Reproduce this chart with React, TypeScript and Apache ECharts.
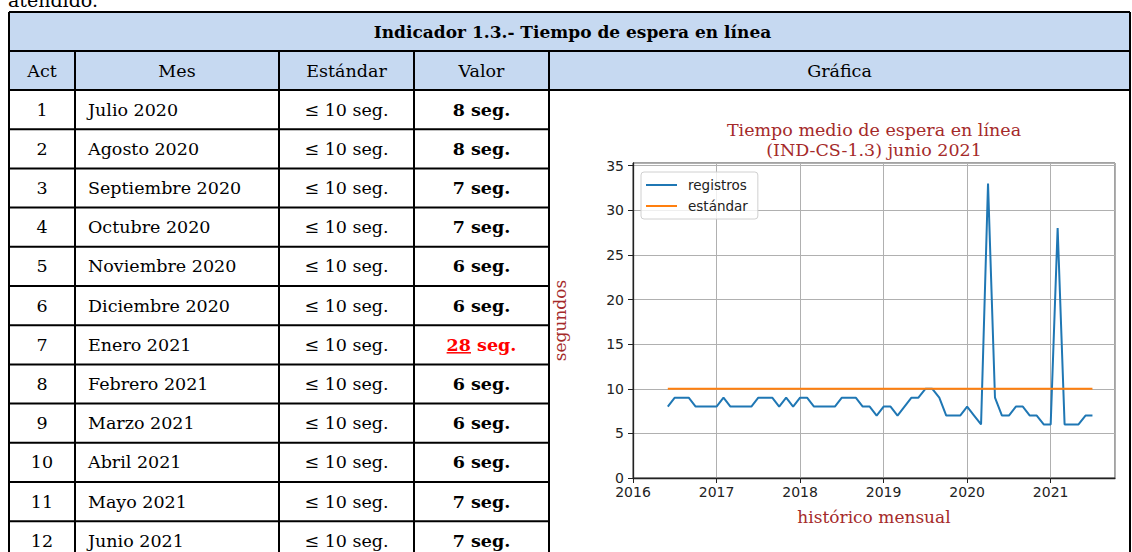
import React, { useEffect, useRef } from 'react';
import * as echarts from 'echarts';

// ---------- table data ----------
const introText = 'atendido.';
const tableTitle = 'Indicador 1.3.- Tiempo de espera en línea';
const headers = ['Act', 'Mes', 'Estándar', 'Valor', 'Gráfica'];
const acts = ['1', '2', '3', '4', '5', '6', '7', '8', '9', '10', '11', '12'];
const months = [
  'Julio 2020', 'Agosto 2020', 'Septiembre 2020', 'Octubre 2020', 'Noviembre 2020', 'Diciembre 2020',
  'Enero 2021', 'Febrero 2021', 'Marzo 2021', 'Abril 2021', 'Mayo 2021', 'Junio 2021',
];
const standards = [
  '≤ 10 seg.', '≤ 10 seg.', '≤ 10 seg.', '≤ 10 seg.', '≤ 10 seg.', '≤ 10 seg.',
  '≤ 10 seg.', '≤ 10 seg.', '≤ 10 seg.', '≤ 10 seg.', '≤ 10 seg.', '≤ 10 seg.',
];
const values = [8, 8, 7, 7, 6, 6, 28, 6, 6, 6, 7, 7];
const valueUnit = 'seg.';
const standardLimit = 10;

// ---------- chart data ----------
const chartTitleLines = ['Tiempo medio de espera en línea', '(IND-CS-1.3) junio 2021'];
const yAxisName = 'segundos';
const xAxisName = 'histórico mensual';
const seriesNames = ['registros', 'estándar'];
const firstYear = 2016;
const firstMonth = 5; // May 2016, month-end dates
const registros = [
  8, 9, 9, 9, 8, 8, 8, 8,
  9, 8, 8, 8, 8, 9, 9, 9,
  8, 9, 8, 9,
  9, 8, 8, 8, 8, 9, 9, 9,
  8, 8, 7, 8, 8, 7, 8, 9,
  9, 10, 10, 9, 7, 7,
  7, 8, 7, 6, 33, 9, 7, 7,
  8, 8, 7, 7, 6, 6, 28, 6, 6, 6, 7, 7,
];
const estandarValue = 10;
const xTicks = [2016, 2017, 2018, 2019, 2020, 2021];
const yTicks = [0, 5, 10, 15, 20, 25, 30, 35];

const SERIF = '"DejaVu Serif", serif';
const SANS = '"DejaVu Sans", sans-serif';

export default function App() {
  const ref = useRef<HTMLDivElement>(null);
  useEffect(() => {
    if (!ref.current) return;
    const chart = echarts.init(ref.current, undefined, { renderer: 'svg' });

    // layout
    const colX = [9, 75, 279, 414, 549, 1130];
    const top = 12;
    const titleBottom = 51;
    const headBottom = 90;
    const rowH = 39.2;
    const bottom = 560;
    const tableFont = 17.5;
    const lineColor = '#000';
    const lw = 2;

    const measure = (text: string, font: string) => {
      const c = document.createElement('canvas').getContext('2d')!;
      c.font = font;
      return c.measureText(text).width;
    };

    const els: any[] = [];
    els.push({
      type: 'text', silent: true,
      style: { text: introText, x: 8, y: 0, fill: '#000', font: `19px ${SERIF}`, textAlign: 'left', textVerticalAlign: 'middle' },
    });
    els.push({
      type: 'rect', silent: true,
      shape: { x: colX[0], y: top, width: colX[5] - colX[0], height: headBottom - top },
      style: { fill: '#c6d9f1' },
    });
    els.push({
      type: 'text', silent: true,
      style: { text: tableTitle, x: (colX[0] + colX[5]) / 2 + 3, y: (top + titleBottom) / 2, fill: '#000', font: `bold 17px ${SERIF}`, textAlign: 'center', textVerticalAlign: 'middle' },
    });
    headers.forEach((h, i) => {
      els.push({
        type: 'text', silent: true,
        style: { text: h, x: (colX[i] + colX[i + 1]) / 2, y: (titleBottom + headBottom) / 2, fill: '#000', font: `${tableFont}px ${SERIF}`, textAlign: 'center', textVerticalAlign: 'middle' },
      });
    });
    acts.forEach((a, r) => {
      const cy = headBottom + rowH * r + rowH / 2;
      els.push({ type: 'text', silent: true, style: { text: a, x: (colX[0] + colX[1]) / 2, y: cy, fill: '#000', font: `${tableFont}px ${SERIF}`, textAlign: 'center', textVerticalAlign: 'middle' } });
      els.push({ type: 'text', silent: true, style: { text: months[r], x: colX[1] + 13, y: cy, fill: '#000', font: `${tableFont}px ${SERIF}`, textAlign: 'left', textVerticalAlign: 'middle' } });
      els.push({ type: 'text', silent: true, style: { text: standards[r], x: (colX[2] + colX[3]) / 2, y: cy, fill: '#000', font: `${tableFont}px ${SERIF}`, textAlign: 'center', textVerticalAlign: 'middle' } });
      const over = values[r] > standardLimit;
      const txt = `${values[r]} ${valueUnit}`;
      const font = `bold ${tableFont}px ${SERIF}`;
      const cx = (colX[3] + colX[4]) / 2;
      els.push({ type: 'text', silent: true, style: { text: txt, x: cx, y: cy, fill: over ? '#ff0000' : '#000', font, textAlign: 'center', textVerticalAlign: 'middle' } });
      if (over) {
        const w = measure(txt, font);
        const wn = measure(String(values[r]), font);
        const x0 = cx - w / 2;
        els.push({ type: 'line', silent: true, shape: { x1: x0, y1: cy + 8, x2: x0 + wn, y2: cy + 8 }, style: { stroke: '#ff0000', lineWidth: 1.5 } });
      }
    });
    // horizontal lines
    [top, titleBottom, headBottom].forEach((y) => {
      els.push({ type: 'line', silent: true, shape: { x1: colX[0], y1: y, x2: colX[5], y2: y }, style: { stroke: lineColor, lineWidth: lw } });
    });
    for (let r = 1; r <= acts.length; r++) {
      const y = headBottom + rowH * r;
      els.push({ type: 'line', silent: true, shape: { x1: colX[0], y1: y, x2: colX[4], y2: y }, style: { stroke: lineColor, lineWidth: lw } });
    }
    // vertical lines
    els.push({ type: 'line', silent: true, shape: { x1: colX[0], y1: top, x2: colX[0], y2: bottom }, style: { stroke: lineColor, lineWidth: lw } });
    els.push({ type: 'line', silent: true, shape: { x1: colX[5], y1: top, x2: colX[5], y2: bottom }, style: { stroke: lineColor, lineWidth: lw } });
    for (let i = 1; i <= 4; i++) {
      els.push({ type: 'line', silent: true, shape: { x1: colX[i], y1: titleBottom, x2: colX[i], y2: bottom }, style: { stroke: lineColor, lineWidth: lw } });
    }

    // chart
    const gridL = 633, gridT = 163, gridW = 482, gridH = 315;
    const titleColor = '#a52a2a';
    els.push({
      type: 'text', silent: true,
      style: { text: chartTitleLines.join('\n'), x: 874, y: gridT - 3, fill: titleColor, font: `17.5px ${SERIF}`, lineHeight: 20, textAlign: 'center', textVerticalAlign: 'bottom' },
    });

    const dateOf = (i: number) => {
      const m = firstMonth - 1 + i;
      const y = firstYear + Math.floor(m / 12);
      const mo = (m % 12) + 1;
      return y + mo / 12;
    };
    const regData = registros.map((v, i) => [dateOf(i), v]);
    const stdData = registros.map((_, i) => [dateOf(i), estandarValue]);
    const isTick = (v: number, list: number[]) => list.some((t) => Math.abs(t - v) < 1e-6);

    chart.setOption({
      animation: false,
      backgroundColor: '#fff',
      grid: { left: gridL, top: gridT, width: gridW, height: gridH, show: true, borderColor: '#444', borderWidth: 1, outerBoundsMode: 'none', containLabel: false },
      legend: {
        data: seriesNames,
        orient: 'vertical',
        left: 641, top: 172,
        padding: [6, 10, 6, 4],
        itemGap: 7,
        itemWidth: 31, itemHeight: 14,
        itemStyle: { opacity: 0 },
        backgroundColor: 'rgba(255,255,255,0.8)',
        borderColor: '#d0d0d0', borderWidth: 1, borderRadius: 3,
        textStyle: { fontFamily: SANS, fontSize: 13.5, color: '#222', padding: [0, 0, 0, 6] },
      },
      xAxis: {
        type: 'value', min: 2016, max: 2021.77, interval: 1,
        name: xAxisName, nameLocation: 'middle', nameGap: 30,
        nameTextStyle: { color: titleColor, fontFamily: SERIF, fontSize: 17 },
        axisLine: { show: true, onZero: false, lineStyle: { color: '#222', width: 1.3 } },
        axisTick: { show: true, length: 5, lineStyle: { color: '#222' } },
        axisLabel: { margin: 7, color: '#222', fontFamily: SANS, fontSize: 14, formatter: (v: number) => (isTick(v, xTicks) ? String(Math.round(v)) : ''), showMaxLabel: false },
        splitLine: { show: true, lineStyle: { color: '#b0b0b0', width: 1 } },
      },
      yAxis: {
        type: 'value', min: 0, max: 35.3, interval: 5,
        name: yAxisName, nameLocation: 'middle', nameGap: 65, nameRotate: 90,
        nameTextStyle: { color: titleColor, fontFamily: SERIF, fontSize: 17 },
        axisLine: { show: true, lineStyle: { color: '#222', width: 1.3 } },
        axisTick: { show: true, length: 5, lineStyle: { color: '#222' } },
        axisLabel: { margin: 9, color: '#222', fontFamily: SANS, fontSize: 14, formatter: (v: number) => (isTick(v, yTicks) ? String(Math.round(v)) : ''), showMaxLabel: false },
        splitLine: { show: true, lineStyle: { color: '#b0b0b0', width: 1 } },
      },
      series: [
        { name: seriesNames[0], type: 'line', data: regData, symbol: 'none', lineStyle: { color: '#1f77b4', width: 2 }, itemStyle: { color: '#1f77b4' } },
        { name: seriesNames[1], type: 'line', data: stdData, symbol: 'none', lineStyle: { color: '#ff7f0e', width: 2 }, itemStyle: { color: '#ff7f0e' } },
      ],
      graphic: { elements: els },
    });
    return () => chart.dispose();
  }, []);
  return <div ref={ref} style={{ position: 'absolute', left: 0, top: 0, width: 1132, height: 552 }} />;
}
